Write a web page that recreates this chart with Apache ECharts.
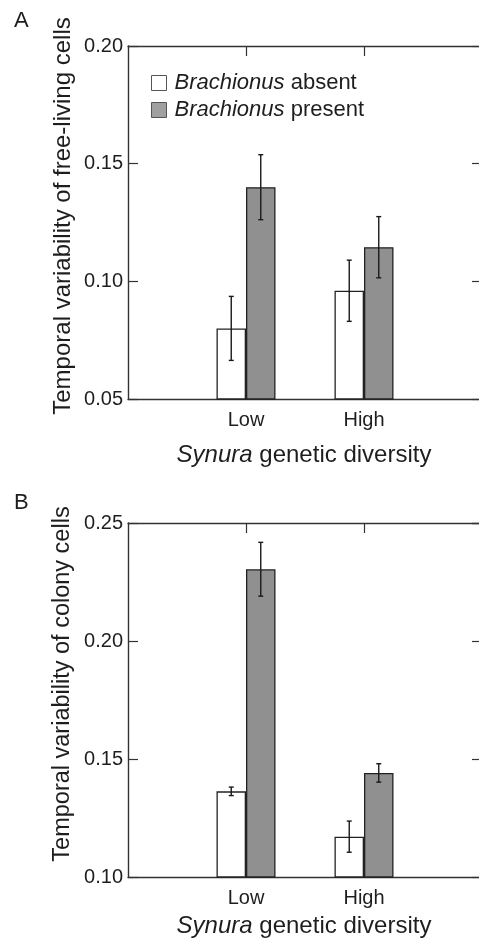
<!DOCTYPE html>
<html>
<head>
<meta charset="utf-8">
<script src="https://cdn.jsdelivr.net/npm/echarts@6/dist/echarts.min.js"></script>
<style>
  html, body { margin: 0; padding: 0; background: #fff; overflow: hidden; }
  #chart { width: 479px; height: 943px; }
</style>
</head>
<body>
<div id="chart"></div>
<script>
// Diversity levels on the x axis
const groups = ['Low', 'High'];

// Panel A: temporal variability of free-living cells (mean and SE)
const freeAbsent = [0.080, 0.096];
const freeAbsentErr = [0.0136, 0.013];
const freePresent = [0.140, 0.1145];
const freePresentErr = [0.0138, 0.013];

// Panel B: temporal variability of colony cells (mean and SE)
const colonyAbsent = [0.1363, 0.1171];
const colonyAbsentErr = [0.0018, 0.0066];
const colonyPresent = [0.2304, 0.1441];
const colonyPresentErr = [0.0114, 0.0039];

// Y-axis tick values
const ticksA = [0.05, 0.10, 0.15, 0.20];
const ticksB = [0.10, 0.15, 0.20, 0.25];

const SERIES_ABSENT = 'Brachionus absent';
const SERIES_PRESENT = 'Brachionus present';

const FONT = 'Liberation Sans, Arial, Helvetica, sans-serif';
const INK = '#1e1e1e';
const AXIS = '#333';
const BAR_W = 29.5;
const GREY = '#909090';

// empty slots at both ends put the groups at 1/3 and 2/3 of the width
const axisCats = [''].concat(groups, ['']);
const pad = arr => [null].concat(arr, [null]);
const errData = (means, errs) => means.map((m, i) => [i + 1, m, errs[i]]);

function errorBar(side) {
  return function (params, api) {
    const x = api.value(0), m = api.value(1), e = api.value(2);
    const top = api.coord([x, m + e]);
    const bot = api.coord([x, m - e]);
    const cx = top[0] + side * BAR_W / 2;
    const cap = 2.5;
    const style = { stroke: '#1a1a1a', lineWidth: 1.4 };
    return {
      type: 'group',
      children: [
        { type: 'line', shape: { x1: cx, y1: top[1], x2: cx, y2: bot[1] }, style },
        { type: 'line', shape: { x1: cx - cap, y1: top[1], x2: cx + cap, y2: top[1] }, style },
        { type: 'line', shape: { x1: cx - cap, y1: bot[1], x2: cx + cap, y2: bot[1] }, style }
      ]
    };
  };
}

function panelAxes(gridIndex, ticks) {
  const lo = ticks[0], hi = ticks[ticks.length - 1], step = ticks[1] - ticks[0];
  const xBottom = {
    type: 'category', gridIndex, data: axisCats, boundaryGap: false, position: 'bottom',
    axisLine: { lineStyle: { color: AXIS, width: 1.4 } },
    axisTick: { show: false },
    axisLabel: { color: INK, fontSize: 20, fontFamily: FONT, margin: 11 }
  };
  const xTop = {
    type: 'category', gridIndex, data: axisCats, boundaryGap: false, position: 'top',
    axisLine: { lineStyle: { color: AXIS, width: 1.4 } },
    axisTick: { show: true, inside: true, length: 10, interval: (i) => i === 1 || i === 2,
                lineStyle: { color: AXIS, width: 1.2 } },
    axisLabel: { show: false }
  };
  const yLeft = {
    type: 'value', gridIndex, min: lo, max: hi, interval: step, position: 'left',
    axisLine: { show: true, lineStyle: { color: AXIS, width: 1.4 } },
    axisTick: { show: true, inside: true, length: 10, lineStyle: { color: AXIS, width: 1.2 } },
    axisLabel: { color: INK, fontSize: 20, fontFamily: FONT, margin: 5,
                 formatter: v => v.toFixed(2) },
    splitLine: { show: false }
  };
  const yRight = {
    type: 'value', gridIndex, min: lo, max: hi, interval: step, position: 'right',
    axisLine: { show: true, lineStyle: { color: AXIS, width: 1.4 } },
    axisTick: { show: true, inside: true, length: 10, lineStyle: { color: AXIS, width: 1.2 } },
    axisLabel: { show: false },
    splitLine: { show: false }
  };
  return { x: [xBottom, xTop], y: [yLeft, yRight] };
}

const axA = panelAxes(0, ticksA);
const axB = panelAxes(1, ticksB);

function barSeries(name, values, xIdx, yIdx, fill) {
  return {
    name, type: 'bar', xAxisIndex: xIdx, yAxisIndex: yIdx,
    data: pad(values), barWidth: BAR_W, barGap: '0%',
    itemStyle: { color: fill, borderColor: '#222', borderWidth: 1.3 },
    emphasis: { disabled: true }
  };
}

function errSeries(name, means, errs, xIdx, yIdx, side) {
  return {
    name, type: 'custom', xAxisIndex: xIdx, yAxisIndex: yIdx,
    renderItem: errorBar(side), data: errData(means, errs),
    encode: { x: 0, y: 1 }, z: 5, silent: true
  };
}

const italicRich = { i: { fontStyle: 'italic', fontSize: 24, fontFamily: FONT, color: INK } };

const option = {
  animation: false,
  backgroundColor: '#fff',
  // the plot frame runs past the right edge of the page
  grid: [
    { left: 128, width: 354, top: 46, height: 353, outerBoundsMode: 'none', containLabel: false },
    { left: 128, width: 354, top: 523, height: 354, outerBoundsMode: 'none', containLabel: false }
  ],
  xAxis: [axA.x[0], axA.x[1], axB.x[0], axB.x[1]],
  yAxis: [axA.y[0], axA.y[1], axB.y[0], axB.y[1]],
  legend: {
    orient: 'vertical', left: 146, top: 67, itemGap: 5,
    itemWidth: 15, itemHeight: 15, icon: 'rect', selectedMode: false,
    data: [
      { name: SERIES_ABSENT, itemStyle: { color: '#fff', borderColor: '#555', borderWidth: 1 } },
      { name: SERIES_PRESENT, itemStyle: { color: '#a0a0a0', borderColor: '#555', borderWidth: 1 } }
    ],
    formatter: name => '{i|Brachionus} ' + name.split(' ')[1],
    textStyle: {
      fontSize: 22, fontFamily: FONT, color: INK, lineHeight: 22, padding: [0, 0, 0, 3],
      rich: { i: { fontStyle: 'italic', fontSize: 22, fontFamily: FONT, color: INK, lineHeight: 22 } }
    }
  },
  graphic: [
    { type: 'text', left: 14, top: 10, style: { text: 'A', font: '22px ' + FONT, fill: INK } },
    { type: 'text', left: 14, top: 492, style: { text: 'B', font: '22px ' + FONT, fill: INK } },
    { type: 'text', x: 63, y: 216, rotation: Math.PI / 2,
      style: { text: 'Temporal variability of free-living cells', font: '24px ' + FONT, fill: INK,
               align: 'center', verticalAlign: 'middle' } },
    { type: 'text', x: 63, y: 684, rotation: Math.PI / 2,
      style: { text: 'Temporal variability of colony cells', font: '23.5px ' + FONT, fill: INK,
               align: 'center', verticalAlign: 'middle' } },
    { type: 'text', x: 304, y: 455,
      style: { text: '{i|Synura} genetic diversity', font: '24px ' + FONT, fill: INK,
               align: 'center', verticalAlign: 'middle', rich: italicRich } },
    { type: 'text', x: 304, y: 926,
      style: { text: '{i|Synura} genetic diversity', font: '24px ' + FONT, fill: INK,
               align: 'center', verticalAlign: 'middle', rich: italicRich } }
  ],
  series: [
    barSeries(SERIES_ABSENT, freeAbsent, 0, 0, '#fff'),
    barSeries(SERIES_PRESENT, freePresent, 0, 0, GREY),
    errSeries('errA1', freeAbsent, freeAbsentErr, 0, 0, -1),
    errSeries('errA2', freePresent, freePresentErr, 0, 0, 1),
    barSeries(SERIES_ABSENT, colonyAbsent, 2, 2, '#fff'),
    barSeries(SERIES_PRESENT, colonyPresent, 2, 2, GREY),
    errSeries('errB1', colonyAbsent, colonyAbsentErr, 2, 2, -1),
    errSeries('errB2', colonyPresent, colonyPresentErr, 2, 2, 1)
  ]
};

echarts.init(document.getElementById('chart'), null, { renderer: 'canvas' }).setOption(option);
</script>
</body>
</html>
